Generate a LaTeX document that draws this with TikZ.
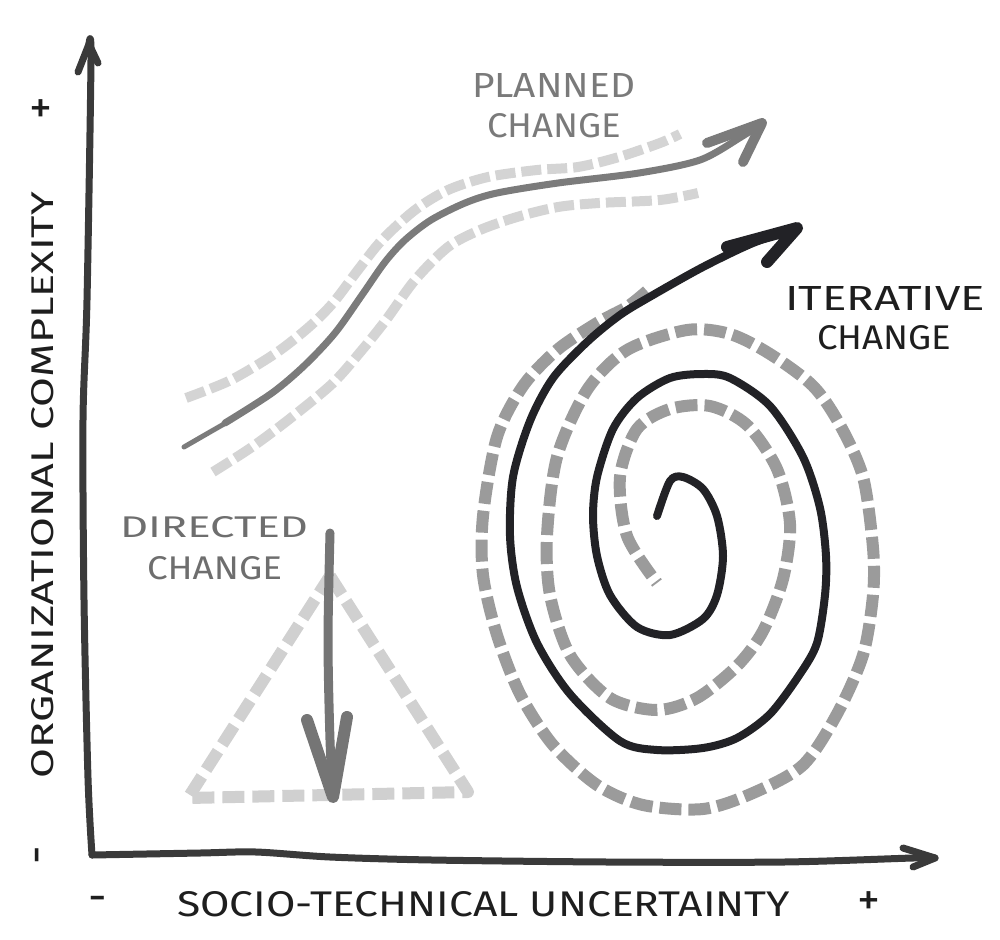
\documentclass[tikz,border=0pt]{standalone}
\usepackage{fontspec}
\setmainfont{Fira Sans}
\usepackage{graphicx}
\definecolor{axc}{HTML}{3A3A3A}
\definecolor{labc}{HTML}{1E1E1E}
\definecolor{plc}{HTML}{7B7B7B}
\definecolor{pldc}{HTML}{D4D4D4}
\definecolor{plt}{HTML}{7A7A7A}
\definecolor{dirt}{HTML}{6E6E6E}
\definecolor{tric}{HTML}{D0D0D0}
\definecolor{dira}{HTML}{757575}
\definecolor{spc}{HTML}{222226}
\definecolor{spd}{HTML}{9B9B9B}
\newcommand\fitt[3]{\resizebox{#1pt}{#2pt}{#3}}
\begin{document}
\begin{tikzpicture}[x=1pt,y=-1pt,
  axis/.style={draw=axc, line width=7pt, line cap=round, line join=round},
  plsolid/.style={draw=plc, line width=7pt, line cap=round, line join=round},
  pldash/.style={draw=pldc, line width=10pt, dash pattern=on 20pt off 6pt},
  tridash/.style={draw=tric, line width=12pt, dash pattern=on 22pt off 8pt, line join=round},
  dirarrow/.style={draw=dira, line width=10pt, line cap=round, line join=round},
  spsolid/.style={draw=spc, line width=8pt, line cap=round, line join=round},
  spdash/.style={draw=spd, line width=12pt, dash pattern=on 22pt off 7pt},
  lbl/.style={inner sep=0pt, outer sep=0pt},
  tick/.style={inner sep=0pt, outer sep=0pt, text=labc, font=\fontsize{46}{46}\selectfont},
]
\useasboundingbox (0,0) rectangle (1000,939);

% axes
\coordinate (O) at (92,855);
\coordinate (ytip) at (89,44);
\coordinate (xtip) at (935,858);
\coordinate (yb1) at (78,72);
\coordinate (yb2) at (98,63);
\coordinate (xb1) at (903,848);
\coordinate (xb2) at (913,867);
\draw[axis] plot[smooth] coordinates {(O) (88,778) (84,600) (83,420) (87,300) (91,60) (ytip)};
\draw[axis] plot[smooth] coordinates {(O) (200,853) (256,852) (330,857) (432,860) (608,862) (784,862) (913,858) (xtip)};
\draw[axis] (yb1) -- (ytip) -- (yb2);
\draw[axis] (xb1) -- (xtip) -- (xb2);

% axis labels
\node[lbl, rotate=90, text=labc] (ylab) at (42.5,485) {\fitt{586}{22}{ORGANIZATIONAL COMPLEXITY}};
\node[tick] (yplus) at (41,112) {+};
\node[tick, rotate=90] (yminus) at (43,855) {-};
\node[lbl, anchor=south west, text=labc] (xlab) at (177,917) {\fitt{613}{25}{SOCIO-TECHNICAL UNCERTAINTY}};
\node[tick] (xminus) at (98,904) {-};
\node[tick] (xplus) at (869,904) {+};

% planned change
\draw[pldash] plot[smooth] coordinates {(186,398) (231,380) (276,353) (309,327) (333,303) (358,270) (382,240) (415,210) (448,190) (488,177) (537,170) (578,167) (619,157) (660,143) (680,134)};
\draw[pldash] plot[smooth] coordinates {(213,472) (252,447) (292,417) (333,383) (362,350) (386,320) (415,280) (448,247) (480,230) (517,217) (558,207) (599,203) (660,200) (698,193)};
\coordinate (pltip) at (762,123);
\coordinate (plb1) at (707,143);
\coordinate (plb2) at (743,162);
\draw[plsolid, line width=5pt] plot[smooth] coordinates {(184,447) (210,432) (231,420)};
\draw[plsolid] plot[smooth] coordinates {(225,423) (272,393) (305,365) (335,333) (362,295) (385,262) (405,240) (431,220) (465,203) (497,193) (558,183) (639,173) (700,160) (741,137) (pltip)};
\draw[plsolid, line width=10pt] (plb1) -- (pltip) -- (plb2);
\node[lbl, anchor=south west, text=plt] (pl1) at (472,97) {\fitt{163}{24}{PLANNED}};
\node[lbl, anchor=south west, text=plt] (pl2) at (487,138) {\fitt{134}{24}{CHANGE}};

% directed change
\coordinate (ta) at (330,576);
\coordinate (tl) at (188,798);
\coordinate (tr) at (468,792);
\draw[tridash] (ta) -- (tr) -- (tl) -- cycle;
\coordinate (dtop) at (330,533);
\coordinate (dtip) at (333,797);
\coordinate (db1) at (307,720);
\coordinate (db2) at (347,717);
\draw[dirarrow, line width=9pt] plot[smooth] coordinates {(dtop) (328,640) (330,740) (dtip)};
\draw[dirarrow, line width=12pt] (db1) -- (dtip) -- (db2);
\node[lbl, anchor=south west, text=dirt] (dr1) at (120,538) {\fitt{188}{21}{DIRECTED}};
\node[lbl, anchor=south west, text=dirt] (dr2) at (147,580) {\fitt{135}{23}{CHANGE}};

% iterative change
\draw[spdash] plot[smooth] coordinates {(647,291) (627,307) (597,323) (557,350) (523,386) (497,437) (483,516) (483,575) (497,635) (520,694) (553,745) (597,785) (643,805) (703,809) (753,793) (803,765) (837,714) (863,655) (873,595) (873,548) (863,477) (840,425) (813,386) (770,354) (730,334) (687,330) (627,350) (587,390) (557,457) (547,536) (550,595) (570,655) (610,698) (657,710) (697,698) (737,666) (763,631) (783,579) (790,524) (777,469) (747,425) (710,406) (670,409) (637,429) (620,477) (627,536) (657,583)};
\coordinate (sptip) at (797,228);
\coordinate (spb1) at (727,247);
\coordinate (spb2) at (767,262);
\draw[spsolid] plot[smooth] coordinates {(657,516) (670,481) (683,477) (703,489) (717,516) (723,556) (717,595) (703,619) (670,635) (637,627) (610,595) (597,556) (593,516) (597,477) (613,429) (637,398) (670,378) (703,374) (730,378) (770,406) (803,457) (820,508) (826,556) (825,595) (817,643) (800,674) (770,714) (737,738) (703,748) (657,750) (620,741) (570,694) (537,643) (517,587) (510,536) (513,477) (530,421) (553,378) (587,342) (620,315) (653,295) (703,267) (753,243) (sptip)};
\draw[spsolid, line width=12pt] (spb1) -- (sptip) -- (spb2);
\node[lbl, anchor=south west, text=labc] (it1) at (785,310) {\fitt{200}{24}{ITERATIVE}};
\node[lbl, anchor=south west, text=labc] (it2) at (817,350) {\fitt{134}{24}{CHANGE}};
\end{tikzpicture}
\end{document}
